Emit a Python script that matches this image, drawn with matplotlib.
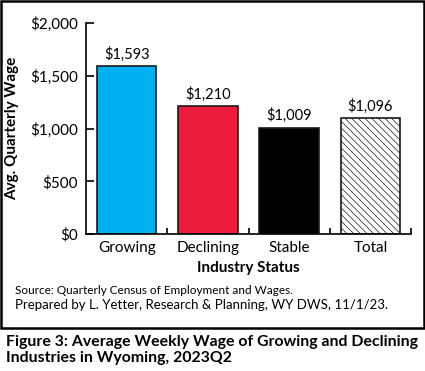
import matplotlib.pyplot as plt
from matplotlib.patches import Rectangle

categories = ['Growing', 'Declining', 'Stable', 'Total']
wages = [1593, 1210, 1009, 1096]
value_labels = ['$1,593', '$1,210', '$1,009', '$1,096']
y_ticks = [0, 500, 1000, 1500, 2000]
y_tick_labels = ['$0', '$500', '$1,000', '$1,500', '$2,000']
colors = ['#00B0F0', '#ED1C3A', '#000000', '#FFFFFF']

plt.rcParams['font.family'] = ['Lato', 'DejaVu Sans']
plt.rcParams['hatch.color'] = '#a8a8a8'
plt.rcParams['hatch.linewidth'] = 0.5

fig = plt.figure(figsize=(4.25, 3.71), dpi=100)
ax = fig.add_axes([0.2024, 0.369, 0.7647, 0.569])

x = range(len(categories))
bars = ax.bar(x, wages, width=0.73, color=colors, edgecolor='#1a1a1a', linewidth=1.2)
bars[3].set_hatch('\\\\\\\\\\')

for i, b in enumerate(bars):
    ax.text(b.get_x() + b.get_width() / 2, wages[i] + 40, value_labels[i],
            ha='center', va='bottom', fontsize=10.5)

ax.set_xlim(-0.5, 3.5)
ax.set_ylim(0, 2000)
ax.set_yticks(y_ticks)
ax.set_yticklabels(y_tick_labels, fontsize=11)
ax.set_xticks(list(x))
ax.set_xticklabels(categories, fontsize=11)
ax.set_xticks([0.5, 1.5, 2.5, 3.5], minor=True)
ax.tick_params(axis='x', which='major', length=0, pad=5)
ax.tick_params(axis='x', which='minor', direction='in', length=4, width=1.2)
ax.tick_params(axis='y', direction='in', length=6, width=1.2, pad=6)
for s in ['top', 'right']:
    ax.spines[s].set_visible(False)
for s in ['left', 'bottom']:
    ax.spines[s].set_linewidth(1.2)

ax.set_ylabel('Avg. Quarterly Wage', fontsize=11, fontweight='bold', labelpad=8)
ax.set_xlabel('Industry Status', fontsize=11, fontweight='bold', labelpad=4)

fig.text(0.035, 1 - 290 / 371, 'Source: Quarterly Census of Employment and Wages.',
         fontsize=8.5, va='center')
fig.text(0.035, 1 - 305 / 371, 'Prepared by L. Yetter, Research & Planning, WY DWS, 11/1/23.',
         fontsize=9.5, va='center')

fig.patches.append(Rectangle((0.002, 1 - 328 / 371), 0.996, 328 / 371 - 0.003,
                             transform=fig.transFigure, fill=False,
                             edgecolor='black', linewidth=1.8))

fig.text(0.015, 1 - 350 / 371,
         'Figure 3: Average Weekly Wage of Growing and Declining\nIndustries in Wyoming, 2023Q2',
         fontsize=11.4, fontweight='bold', va='center', linespacing=1.1)

fig.savefig('out.png', dpi=100)
